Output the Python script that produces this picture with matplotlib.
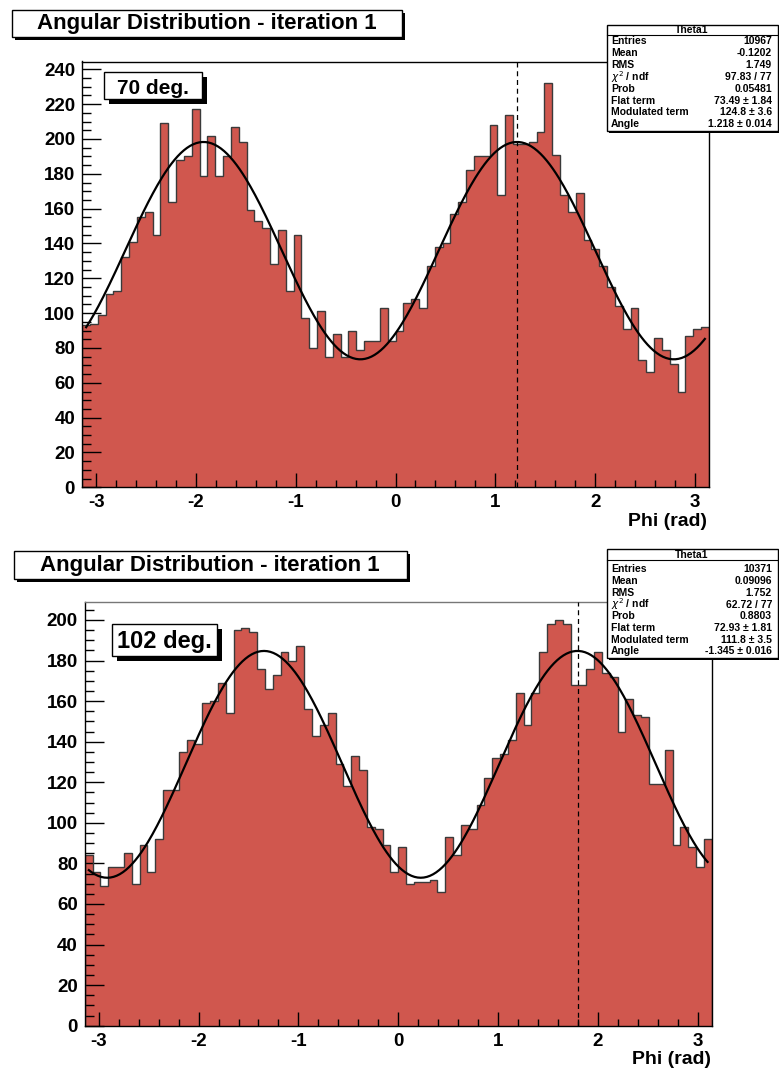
import numpy as np
import matplotlib
matplotlib.use('Agg')
import matplotlib.pyplot as plt
from matplotlib.patches import Rectangle
from matplotlib.ticker import MultipleLocator

plt.rcParams['font.family'] = ['Liberation Sans', 'DejaVu Sans']
plt.rcParams['axes.unicode_minus'] = False

# bin contents (80 bins from -pi to pi)
counts_70 = [93, 94, 99, 111, 113, 132, 141, 155, 158, 145,
             209, 164, 188, 190, 217, 179, 202, 179, 190, 207,
             198, 159, 153, 149, 128, 148, 113, 145, 97, 80,
             101, 75, 88, 75, 90, 79, 84, 84, 103, 84,
             90, 106, 108, 103, 127, 138, 140, 157, 164, 182,
             190, 190, 208, 168, 214, 197, 197, 198, 204, 232,
             191, 168, 158, 169, 142, 137, 127, 115, 104, 91,
             103, 73, 66, 86, 79, 71, 55, 87, 91, 92]
counts_102 = [84, 76, 69, 78, 78, 85, 70, 89, 76, 92,
              116, 116, 135, 141, 139, 159, 160, 169, 154, 195,
              196, 194, 176, 166, 173, 184, 180, 187, 156, 143,
              148, 154, 129, 118, 133, 126, 98, 97, 89, 76,
              88, 70, 71, 71, 72, 66, 93, 84, 99, 97,
              109, 122, 132, 134, 141, 164, 148, 164, 184, 198,
              200, 198, 168, 168, 176, 184, 174, 172, 145, 161,
              153, 152, 119, 119, 136, 89, 98, 88, 78, 92]

# fit parameters: flat term, modulated term, angle
fit_70 = [73.49, 124.8, 1.218]
fit_102 = [72.93, 111.8, -1.345]
peak_70 = 1.218
peak_102 = 1.797

labels_70 = "70 deg."
labels_102 = "102 deg."

stats_names = ["Entries", "Mean", "RMS", r"$\chi^{2}$ / ndf", "Prob",
               "Flat term", "Modulated term", "Angle"]
stats_70 = ["10967", "-0.1202", "1.749", "97.83 / 77", "0.05481",
            "73.49 \u00b1 1.84", "124.8 \u00b1 3.6", "1.218 \u00b1 0.014"]
stats_102 = ["10371", "0.09096", "1.752", "62.72 / 77", "0.8803",
             "72.93 \u00b1 1.81", "111.8 \u00b1 3.5", "-1.345 \u00b1 0.016"]

title = "Angular Distribution - iteration 1"
fill_col = '#d0574e'

W, H = 779, 1072
fig = plt.figure(figsize=(W / 100, H / 100), dpi=100)


def px(x, y):
    return x / W, 1 - y / H


def add_box(x0, y0, x1, y1, shadow, lw=1.0):
    fx, fy = px(x0, y1)
    fw, fh = (x1 - x0) / W, (y1 - y0) / H
    if shadow > 0:
        fig.add_artist(Rectangle((fx + shadow / W, fy - shadow / H), fw, fh,
                                 transform=fig.transFigure, facecolor='black',
                                 edgecolor='none', zorder=5))
    fig.add_artist(Rectangle((fx, fy), fw, fh, transform=fig.transFigure,
                             facecolor='white', edgecolor='black', lw=lw, zorder=6))


def add_text(x, y, s, size, ha='center', va='center', weight='bold'):
    fx, fy = px(x, y)
    fig.text(fx, fy, s, ha=ha, va=va, fontsize=size, weight=weight, zorder=7)


def draw_panel(rect, counts, fit, peak, ymax):
    ax = fig.add_axes(rect)
    edges = np.linspace(-np.pi, np.pi, len(counts) + 1)
    ax.stairs(counts, edges, fill=True, color=fill_col, zorder=1)
    ax.stairs(counts, edges, color='#3a3a3a', lw=1.0, zorder=2)
    phi = np.linspace(-3.1, 3.1, 400)
    ax.plot(phi, fit[0] + fit[1] * np.cos(phi - fit[2]) ** 2, color='black', lw=1.6, zorder=3)
    ax.axvline(peak, color='black', ls=(0, (4, 3)), lw=0.9, zorder=3)
    ax.set_xlim(-np.pi, np.pi)
    ax.set_ylim(0, ymax)
    ax.xaxis.set_major_locator(MultipleLocator(1))
    ax.xaxis.set_minor_locator(MultipleLocator(0.2))
    ax.yaxis.set_major_locator(MultipleLocator(20))
    ax.yaxis.set_minor_locator(MultipleLocator(5))
    ax.tick_params(which='both', direction='in', top=False, right=False)
    ax.tick_params(axis='y', which='major', length=13.5, width=1, labelsize=13.5, pad=5)
    ax.tick_params(axis='y', which='minor', length=6.5, width=1)
    ax.tick_params(axis='x', which='major', length=10, width=1, labelsize=13.5, pad=5)
    ax.tick_params(axis='x', which='minor', length=5, width=1)
    for lab in ax.get_xticklabels() + ax.get_yticklabels():
        lab.set_fontweight('bold')
    for sp in ax.spines.values():
        sp.set_linewidth(1.0)
    return ax


ax1 = draw_panel([82 / W, 1 - 487.3 / H, 627 / W, 425.8 / H], counts_70, fit_70, peak_70, 244.5)
ax2 = draw_panel([84.7 / W, 1 - 1025.7 / H, 627 / W, 424 / H], counts_102, fit_102, peak_102, 209)
ax2.spines['top'].set_color('#777777')

# x axis titles
add_text(707, 521, "Phi (rad)", 14, ha='right')
add_text(711, 1060, "Phi (rad)", 14, ha='right')

# title boxes
add_box(12, 10, 402, 37, 3)
add_text(207, 24, title, 16)
add_box(14, 551, 407, 579, 3)
add_text(210, 565, title, 16)

# angle labels
add_box(104, 72, 202, 99, 5)
add_text(153, 94, labels_70, 15, va='baseline')
add_box(112, 624, 217, 656, 5)
add_text(164, 648, labels_102, 17, va='baseline')


def stats_box(y0, y1, sep, row0, step, values):
    add_box(607, y0, 778, y1, 2)
    fx0, fy = px(607, sep)
    fx1, _ = px(778, sep)
    fig.add_artist(plt.Line2D([fx0, fx1], [fy, fy], transform=fig.transFigure,
                              color='black', lw=0.8, zorder=7))
    add_text(692, (y0 + sep) / 2, "Theta1", 7.5)
    for i, (name, val) in enumerate(zip(stats_names, values)):
        y = row0 + step * i
        add_text(611, y, name, 7.5, ha='left')
        add_text(772, y, val, 7.5, ha='right')


stats_box(25, 131, 35, 41, 11.9, stats_70)
stats_box(549, 658, 560, 569.5, 11.7, stats_102)

fig.savefig('out.png', dpi=100)
